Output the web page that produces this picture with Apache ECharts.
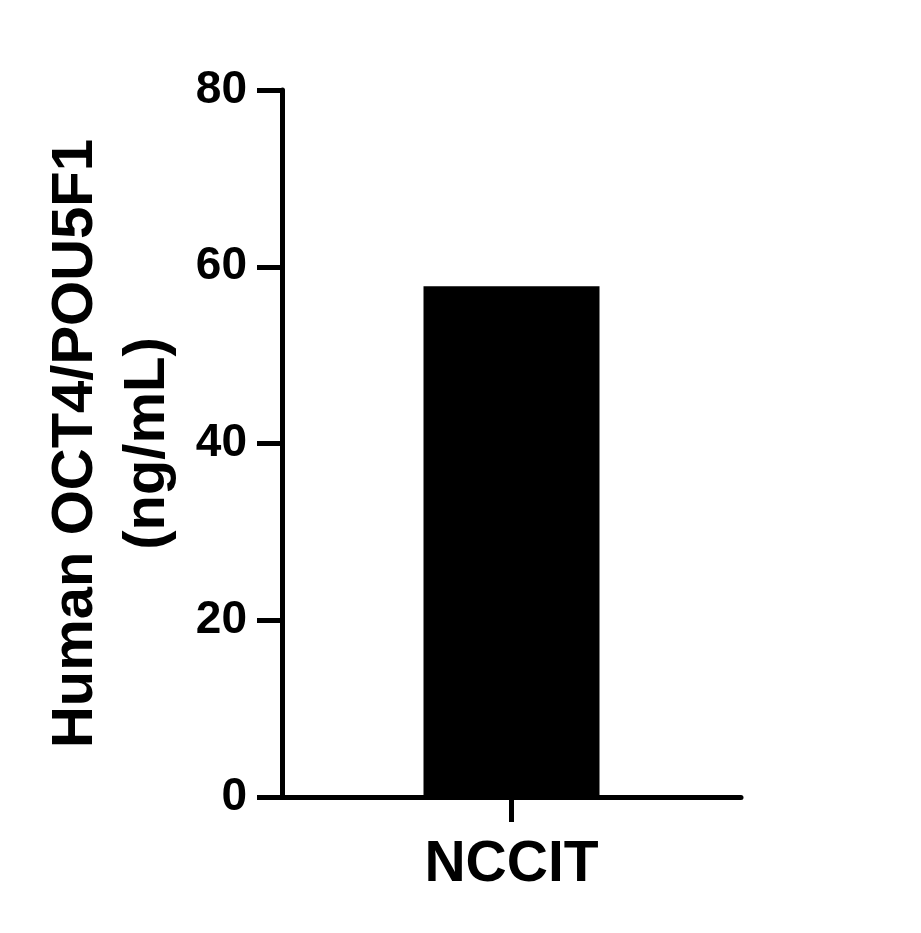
<!DOCTYPE html>
<html>
<head>
<meta charset="utf-8">
<script src="https://cdn.jsdelivr.net/npm/echarts@6/dist/echarts.min.js"></script>
<style>
  html, body { margin: 0; padding: 0; background: #fff; }
  #chart { width: 921px; height: 933px; }
</style>
</head>
<body>
<div id="chart"></div>
<script>
// values
const categories = ['NCCIT'];
const values = [57.8];
const yTicks = [0, 20, 40, 60, 80];

const chart = echarts.init(document.getElementById('chart'));
const font = '"Liberation Sans", Arial, sans-serif';

chart.setOption({
    backgroundColor: '#ffffff',
    animation: false,
    grid: {
        left: 282,
        right: 180,
        top: 90,
        bottom: 136
    },
    xAxis: {
        type: 'category',
        data: categories,
        axisLine: { lineStyle: { color: '#000', width: 5 } },
        axisTick: { show: true, alignWithLabel: true, interval: 0, length: 25, lineStyle: { color: '#000', width: 5 } },
        axisLabel: {
            margin: 40,
            color: '#000',
            fontSize: 57,
            fontWeight: 'bold',
            fontFamily: font
        }
    },
    yAxis: {
        type: 'value',
        min: yTicks[0],
        max: yTicks[yTicks.length - 1],
        interval: yTicks[1] - yTicks[0],
        name: 'Human OCT4/POU5F1\n(ng/mL)',
        nameLocation: 'middle',
        nameRotate: 90,
        nameGap: 98,
        nameTextStyle: {
            color: '#000',
            fontSize: 58,
            fontWeight: 'bold',
            fontFamily: font,
            lineHeight: 72
        },
        splitLine: { show: false },
        axisLine: { show: true, lineStyle: { color: '#000', width: 5 } },
        axisTick: { show: true, length: 25, lineStyle: { color: '#000', width: 5 } },
        axisLabel: {
            margin: 35,
            color: '#000',
            fontSize: 46,
            fontWeight: 'bold',
            fontFamily: font
        }
    },
    series: [
        {
            type: 'bar',
            data: values,
            barWidth: 176,
            itemStyle: { color: '#000' }
        }
    ]
});
</script>
</body>
</html>
